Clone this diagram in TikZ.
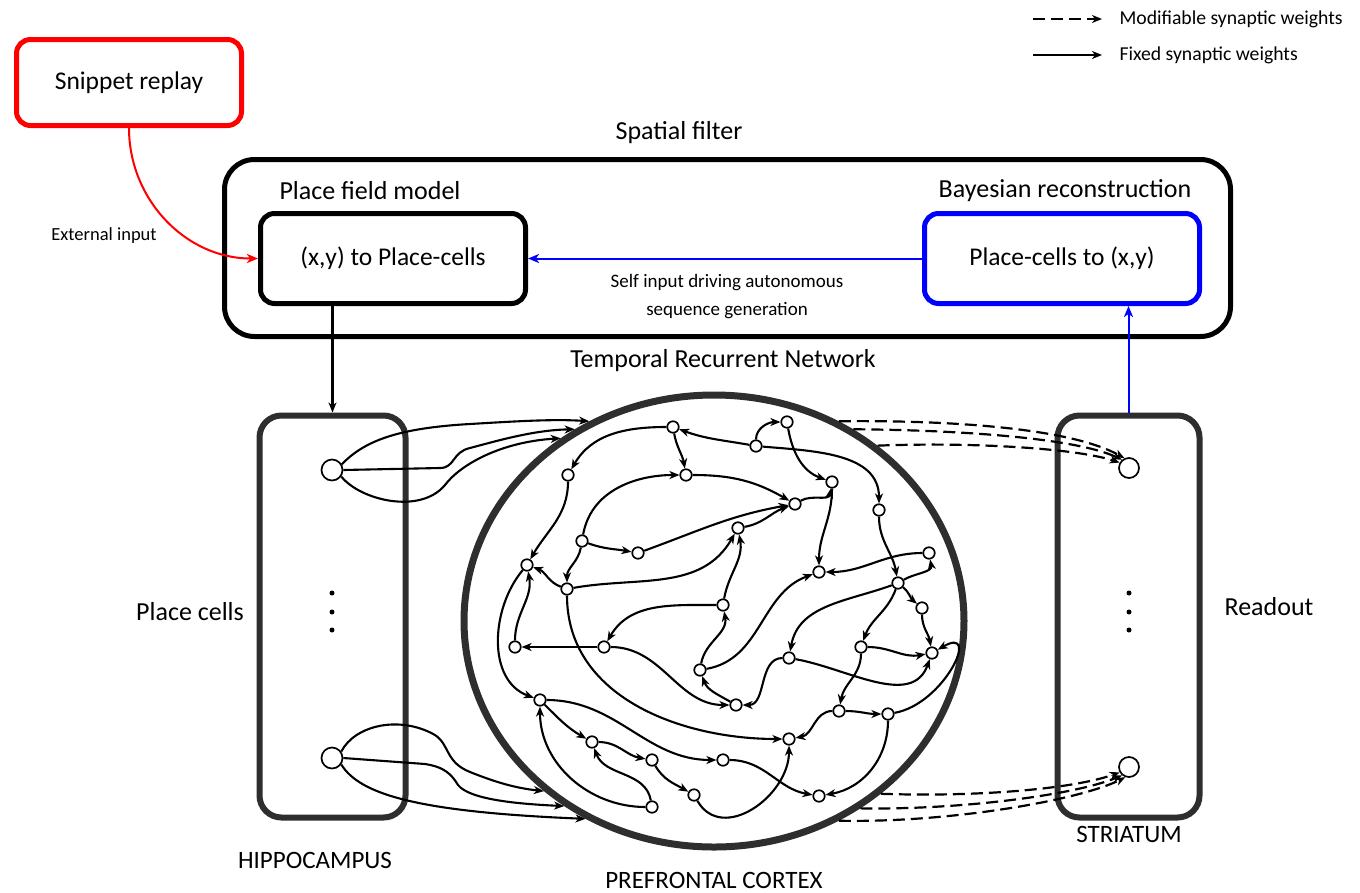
\documentclass[tikz,border=0pt]{standalone}
\usepackage{fontspec}
\setmainfont{Carlito}
\usetikzlibrary{arrows.meta,shapes.geometric}
\begin{document}
\begin{tikzpicture}[x=1pt,y=1pt,
  net/.style={circle,draw,line width=1.7pt,fill=white,inner sep=0pt,minimum size=11.5pt},
  cell/.style={circle,draw,line width=1.7pt,fill=white,inner sep=0pt,minimum size=21pt},
  syn/.style={line width=2.1pt,-{Stealth[length=10pt,width=8pt,inset=3pt]}},
  mod/.style={line width=2.2pt,dash pattern=on 12pt off 6pt,-{Stealth[length=10pt,width=8pt,inset=3pt]}},
  big/.style={font=\fontsize{26}{30}\selectfont},
  boxtext/.style={font=\fontsize{25.5}{30}\selectfont},
  small/.style={font=\fontsize{19}{22}\selectfont},
  box/.style={draw,line width=5pt,rounded corners=16pt,inner sep=0pt},
  area/.style={draw=black!82,line width=6pt,rounded corners=22pt,inner sep=0pt},
  dotc/.style={circle,fill,inner sep=0pt,minimum size=5pt},
]
\useasboundingbox (0,0) rectangle (1360,-892);

% legend
\coordinate (la1) at (1033,-19); \coordinate (lb1) at (1102,-19);
\coordinate (la2) at (1033,-55); \coordinate (lb2) at (1102,-55);
\draw[mod] (la1) -- (lb1);
\draw[syn] (la2) -- (lb2);
\node[anchor=west,font=\fontsize{19.7}{22}\selectfont] (lt1) at (1116,-19) {Modifiable synaptic weights};
\node[anchor=west,font=\fontsize{19.7}{22}\selectfont] (lt2) at (1116,-55) {Fixed synaptic weights};

% top boxes
\node[box,draw=red,minimum width=225pt,minimum height=86pt,rounded corners=14pt,boxtext] (snip) at (129,-82.5) {Snippet replay};
\node[big] (sflab) at (679,-133) {Spatial filter};
\node[box,minimum width=1006pt,minimum height=177pt,rounded corners=30pt] (sf) at (727.5,-248) {};
\node[big] (pflab) at (370,-191) {Place field model};
\node[big] (bylab) at (1065,-191) {Bayesian reconstruction};
\node[box,minimum width=265pt,minimum height=90pt,rounded corners=14pt,boxtext] (pc) at (393,-258.5) {(x,y) to Place-cells};
\node[box,draw=blue,minimum width=275pt,minimum height=90pt,rounded corners=14pt,boxtext] (bay) at (1062,-258.5) {Place-cells to (x,y)};
\node[font=\fontsize{18.5}{22}\selectfont] (ext) at (104,-236) {External input};
\node[align=center,font=\fontsize{19}{28}\selectfont] (self) at (727,-297) {Self input driving autonomous\\sequence generation};
\node[big] (trn) at (723,-361) {Temporal Recurrent Network};

% areas
\node[area,minimum width=146pt,minimum height=402pt] (hip) at (332.5,-616.5) {};
\node[area,minimum width=142pt,minimum height=402pt] (str) at (1128.5,-616.5) {};
\node[ellipse,draw=black!82,line width=7pt,minimum width=500pt,minimum height=452pt] (pfc) at (714,-621) {};
\node[big] (pclab) at (190,-612) {Place cells};
\node[big] (rolab) at (1269,-607) {Readout};
\node[font=\fontsize{25}{30}\selectfont] (hiplab) at (315,-860) {HIPPOCAMPUS};
\node[font=\fontsize{25}{30}\selectfont] (pfclab) at (714,-880) {PREFRONTAL CORTEX};
\node[font=\fontsize{25}{30}\selectfont] (strlab) at (1129,-834) {STRIATUM};

\node[dotc] (hd1) at (332,-593) {}; \node[dotc] (hd2) at (332,-612) {}; \node[dotc] (hd3) at (332,-630) {};
\node[dotc] (sd1) at (1129,-593) {}; \node[dotc] (sd2) at (1129,-612) {}; \node[dotc] (sd3) at (1129,-630) {};

\node[cell] (h1) at (332,-470) {};
\node[cell] (h2) at (332,-758) {};
\node[cell,minimum size=20pt] (s1) at (1129,-468) {};
\node[cell,minimum size=20pt] (s2) at (1129,-767) {};

% top connectors
\draw[red,line width=2pt,-{Stealth[length=11pt,width=9pt,inset=3pt]}] (snip.south) to[out=-90,in=180] (pc.west);
\draw[blue,line width=2pt,-{Stealth[length=11pt,width=9pt,inset=3pt]}] (bay.west) -- (pc.east);
\draw[blue,line width=2pt,-{Stealth[length=11pt,width=9pt,inset=3pt]}] (str.north) -- (str.north |- bay.south);
\draw[syn] (pc.south -| hip.north) -- (hip.north);

% network nodes
\foreach \n/\x/\y in {A/673/427,B/686/475,C/568/475,D/582/541,E/638/553,F/527/565,G/567/589,
  H/787/422,I/756/446,J/832/482,K/795/504,L/879/510,M/738/528,N/929/553,O/819/572,P/898/583,
  Q/922/608,R/723/605,S/515/647,T/604/647,U/700/670,V/736/705,W/789/658,X/861/647,Y/932/653,
  Z/839/711,AA/888/714,AB/789/739,AC/723/760,AD/819/796,AE/540/700,AF/592/742,AG/652/760,
  AH/694/795,AI/652/807}
  {\node[net] (\n) at (\x,-\y) {};}

% network edges
\draw[syn] (A) to[out=180,in=60] (C);
\draw[syn] (A) to[out=-80,in=100] (B);
\draw[syn] (I) to[out=170,in=-20] (A);
\draw[syn] (I) to[out=90,in=180] (H);
\draw[syn] (H) to[out=-80,in=160] (J);
\draw[syn] (I) to[out=-5,in=90] (L);
\draw[syn] (B) to[out=0,in=150] (K);
\draw[syn] (K) to[out=30,in=-100] (J);
\draw[syn] (J) to[out=-90,in=90] (O);
\draw[syn] (M) to[out=10,in=-160] (K);
\draw[syn] (E) to[out=20,in=-170] (K);
\draw[syn] (D) to[out=80,in=180] (B);
\draw[syn] (D) to[out=-20,in=170] (E);
\draw[syn] (D) to[out=-100,in=90] (G);
\draw[syn] (C) to[out=-90,in=60] (F);
\draw[syn] (G) to[out=160,in=-20] (F);
\draw[syn] (T) -- (S);
\draw[syn] (S) to[out=90,in=-80] (F);
\draw[syn] (F) to[out=230,in=160] (AE);
\draw[syn] (G) to[out=10,in=240] (M);
\draw[syn] (R) to[out=80,in=-80] (M);
\draw[syn] (G) to[out=-90,in=180] (AB);
\draw[syn] (AE) to[out=0,in=180] (AC);
\draw[syn] (AE) to[out=-45,in=150] (AF);
\draw[syn] (AF) to[out=0,in=170] (AG);
\draw[syn] (AG) to[out=-60,in=150] (AH);
\draw[syn] (AI) to[out=100,in=-70] (AF);
\draw[syn] (AI) to[out=180,in=-90] (AE);
\draw[syn] (AH) to[out=-60,in=-90,looseness=1.2] (AB);
\draw[syn] (AC) to[out=0,in=170] (AD);
\draw[syn] (AA) to[out=-90,in=10] (AD);
\draw[syn] (Z) to[out=180,in=10] (AB);
\draw[syn] (Z) to[out=0,in=180] (AA);
\draw[syn] (X) to[out=-90,in=80] (Z);
\draw[syn] (X) to[out=0,in=190] (Y);
\draw[syn] (W) to[out=-10,in=-110] (Y);
\draw[syn] (Q) to[out=-90,in=100] (Y);
\draw[syn] (AA) to[out=10,in=30,looseness=1.7] (Y);
\draw[syn] (W) to[out=180,in=0] (V);
\draw[syn] (P) to[out=200,in=80] (W);
\draw[syn] (L) to[out=-90,in=100] (P);
\draw[syn] (P) to[out=30,in=-80] (N);
\draw[syn] (P) to[out=-40,in=140] (Q);
\draw[syn] (P) to[out=-110,in=70] (X);
\draw[syn] (N) to[out=180,in=0] (O);
\draw[syn] (U) to[out=10,in=200] (O);
\draw[syn] (U) to[out=80,in=-80] (R);
\draw[syn] (R) to[out=180,in=60] (T);
\draw[syn] (T) to[out=0,in=180] (V);
\draw[syn] (V) to[out=150,in=-70] (U);

% hippocampus -> PFC
\draw[syn] (h1.30) .. controls (365,-440) and (400,-428) .. (470,-424) .. controls (520,-421) and (555,-419) .. (pfc.122);
\draw[syn] (h1.east) -- (440,-468) .. controls (455,-468) and (452,-452) .. (470,-448) .. controls (500,-440) and (535,-430) .. (pfc.126.6);
\draw[syn] (h1.-35) .. controls (360,-500) and (420,-515) .. (445,-485) .. controls (460,-465) and (500,-442) .. (pfc.130.8);
\draw[syn] (h2.35) .. controls (355,-725) and (400,-715) .. (435,-735) .. controls (450,-745) and (445,-762) .. (470,-772) .. controls (495,-782) and (515,-788) .. (pfc.-135.3);
\draw[syn] (h2.east) -- (425,-764) .. controls (445,-767) and (452,-775) .. (458,-785) .. controls (470,-800) and (520,-804) .. (pfc.231.1);
\draw[syn] (h2.-35) .. controls (360,-795) and (420,-812) .. (pfc.237.1);

% PFC -> striatum (modifiable)
\draw[mod] (pfc.58.2) .. controls (950,-420) and (1070,-428) .. (s1.115);
\draw[mod] (pfc.54.4) .. controls (960,-430) and (1075,-438) .. (s1.130);
\draw[mod] (pfc.47.7) .. controls (970,-442) and (1075,-448) .. (s1.150);
\draw[mod] (pfc.-46.2) .. controls (970,-797) and (1070,-790) .. (s2.210);
\draw[mod] (pfc.-52.3) .. controls (960,-810) and (1075,-795) .. (s2.230);
\draw[mod] (pfc.-58.5) .. controls (950,-823) and (1080,-800) .. (s2.250);
\end{tikzpicture}
\end{document}
